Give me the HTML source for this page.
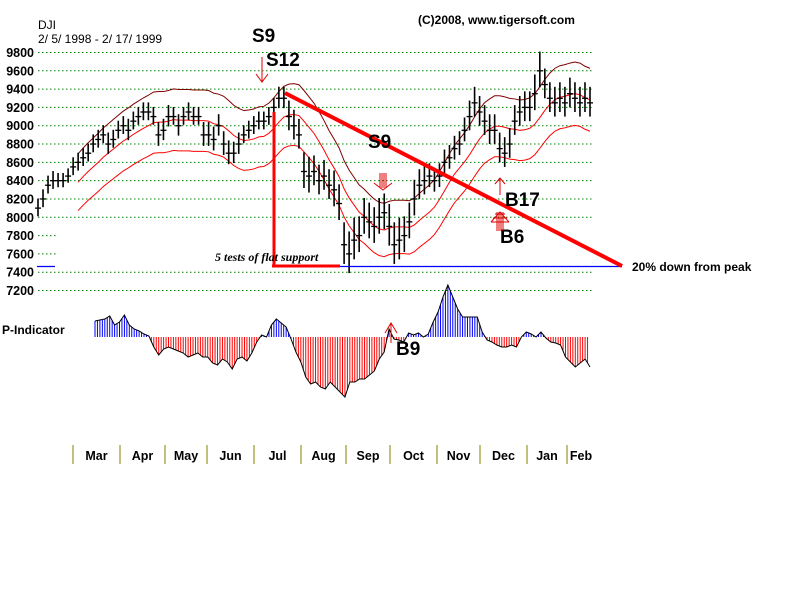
<!DOCTYPE html>
<html><head><meta charset="utf-8"><style>
body{margin:0;background:#fff;}
svg{display:block;font-family:"Liberation Sans",Arial,sans-serif;}
</style></head><body>
<svg id="c" width="800" height="600" viewBox="0 0 800 600">
<rect width="800" height="600" fill="#fff"/>
<g id="grid"></g>
<g id="ylab" font-size="12.5" font-weight="bold"></g>
<g id="bands"></g>
<g id="bars"></g>
<g id="ind"></g>
<g id="months"></g>
<text x="38" y="29" font-size="12">DJI</text>
<text x="38" y="43" font-size="12">2/ 5/ 1998 - 2/ 17/ 1999</text>
<text x="418" y="24" font-size="12" font-weight="bold">(C)2008, www.tigersoft.com</text>
<text x="252" y="42" font-size="19" font-weight="bold">S9</text>
<text x="266" y="66" font-size="19" font-weight="bold">S12</text>
<g stroke="#e00000" stroke-width="1" fill="none"><line x1="262" y1="57" x2="262" y2="82"/><polyline points="256,74 262,82 268,74"/></g>
<line x1="274" y1="112" x2="274" y2="266" stroke="#ff0000" stroke-width="3"/>
<line x1="272" y1="266" x2="340" y2="266" stroke="#ff0000" stroke-width="3"/>
<text x="215" y="261" font-family="Liberation Serif,serif" font-style="italic" font-weight="bold" font-size="12">5 tests of flat support</text>
<line x1="340" y1="266.5" x2="622" y2="266.5" stroke="#0000ff" stroke-width="1.2"/>
<line x1="37" y1="266.5" x2="55" y2="266.5" stroke="#0000ff" stroke-width="1.2"/>
<line x1="285" y1="93" x2="622" y2="266" stroke="#ff0000" stroke-width="4"/>
<text x="632" y="271" font-size="12" font-weight="bold">20% down from peak</text>
<text x="368" y="148" font-size="19" font-weight="bold">S9</text>
<g stroke="#e00000" stroke-width="1" fill="none"><line x1="380" y1="173" x2="380" y2="188"/><line x1="382" y1="173" x2="382" y2="188"/><line x1="384" y1="173" x2="384" y2="188"/><line x1="386" y1="173" x2="386" y2="188"/><polyline points="374,183 383,190 392,183"/></g>
<text x="505" y="206" font-size="19" font-weight="bold">B17</text>
<g stroke="#e00000" stroke-width="1" fill="none"><line x1="500" y1="178" x2="500" y2="195"/><polyline points="495,184 500,178 505,184"/></g>
<text x="500" y="243" font-size="19" font-weight="bold">B6</text>
<g stroke="#e00000" stroke-width="1" fill="none"><polyline points="491,222 500,212 509,222"/><line x1="491" y1="222" x2="509" y2="222"/><line x1="495" y1="214" x2="505" y2="214"/><line x1="493" y1="218" x2="507" y2="218"/><line x1="497" y1="212" x2="497" y2="231"/><line x1="499" y1="212" x2="499" y2="231"/><line x1="501" y1="212" x2="501" y2="231"/><line x1="503" y1="212" x2="503" y2="231"/></g>
<text x="2" y="334" font-size="12" font-weight="bold">P-Indicator</text>
<text x="396" y="355" font-size="19" font-weight="bold">B9</text>
<g stroke="#e00000" stroke-width="1" fill="none"><line x1="391" y1="323" x2="391" y2="343"/><polyline points="385,333 391,323 397,333"/></g>
</svg>
<script>
var yTicks=[9800,9600,9400,9200,9000,8800,8600,8400,8200,8000,7800,7600,7400,7200];
var closes=[8100,8200,8350,8400,8400,8400,8450,8550,8600,8650,8700,8800,8850,8900,8800,8850,8950,9000,8950,9050,9100,9150,9150,9100,8900,8950,9100,9100,9000,9100,9150,9100,9100,8900,8900,8850,9000,8800,8700,8700,8800,8900,8950,9000,9050,9050,9100,9200,9300,9300,9100,9000,8900,8500,8450,8500,8400,8450,8350,8300,8150,7700,7600,7750,7800,8000,7950,7900,8000,8050,7900,7700,7750,7800,7950,8200,8350,8400,8450,8400,8450,8600,8650,8750,8800,8950,9100,9250,9150,9050,8950,8950,8750,8700,8800,9050,9150,9200,9200,9350,9600,9450,9300,9250,9300,9250,9350,9300,9250,9300,9250];
var ranges=[150,150,150,150,120,120,120,150,150,150,150,150,150,150,180,150,150,150,180,150,150,150,150,150,200,180,180,150,180,150,150,150,150,200,200,200,180,200,200,180,180,150,150,150,150,150,150,150,180,180,250,250,250,300,300,250,250,250,250,300,300,350,350,350,300,300,300,300,300,300,350,350,350,300,300,300,250,250,200,200,200,200,200,200,200,200,250,250,250,250,250,250,250,250,250,250,250,250,250,300,300,250,250,250,250,250,250,250,250,250,250];
var pInd=[16,17,18,21,12,15,22,12,8,6,3,1,-10,-18,-12,-10,-12,-14,-16,-20,-18,-16,-20,-20,-26,-28,-22,-25,-32,-22,-20,-24,-16,-5,2,0,12,18,14,10,-2,-15,-25,-40,-47,-45,-50,-52,-45,-50,-55,-60,-45,-45,-42,-42,-38,-34,-22,-15,8,-2,-3,-5,4,2,4,0,3,15,25,40,52,40,28,20,20,20,20,5,-3,-5,-8,-10,-10,-8,-10,0,5,3,0,5,-1,-5,-6,-8,-20,-25,-30,-26,-22,-30];
var months=["Mar","Apr","May","Jun","Jul","Aug","Sep","Oct","Nov","Dec","Jan","Feb"];
var monthTicks=[73,120,165,207,254,301,346,390,437,480,527,567,595];
(function(){
var NS='http://www.w3.org/2000/svg';
function mk(t,a,p){var e=document.createElementNS(NS,t);for(var k in a)e.setAttribute(k,a[k]);p.appendChild(e);return e;}
function Y(v){return 52.5+(9800-v)*(238/2600);}
var X0=38,X1=590;
function X(i){return X0+i*(X1-X0)/(closes.length-1);}
var g=document.getElementById('grid'),yl=document.getElementById('ylab');
yTicks.forEach(function(v){
  var short=(v===7800||v===7600);
  var l=mk('line',{x1:38,x2:short?56:592,y1:Y(v),y2:Y(v),stroke:'#008000','stroke-dasharray':'1.5,2.5'},g);
  
  
  var t=mk('text',{x:34,y:Y(v)+4.5,'text-anchor':'end'},yl);t.textContent=v;
  
  
});
var b=document.getElementById('bands');var N=9;
var mid=[],up=[],lo=[];
for(var i=N-1;i<closes.length;i++){var s=0;for(var j=i-N+1;j<=i;j++)s+=closes[j];var m=s/N;mid.push([X(i),Y(m)]);up.push([X(i),Y(m*1.037)]);lo.push([X(i),Y(m*0.963)]);}
[[up,'#800000','upper-band'],[mid,'#ff0000','middle-band'],[lo,'#ff0000','lower-band']].forEach(function(a){
  var p=mk('polyline',{points:a[0].map(function(q){return q.join(',');}).join(' '),fill:'none',stroke:a[1],'stroke-width':1},b);
  
  
});
var bg=document.getElementById('bars');
closes.forEach(function(c,i){
  var x=X(i),r=ranges[i];
  var l=mk('line',{x1:x,x2:x,y1:Y(c+r*0.7),y2:Y(c-r*0.6),stroke:'#000','stroke-width':1.6},bg);
  
  
  var t=mk('line',{x1:x-3,x2:x+3,y1:Y(c),y2:Y(c),stroke:'#000','stroke-width':1.3},bg);
  
  
});
var ig=document.getElementById('ind');var base=337;
function IX(i){return 95+i*(590-95)/(pInd.length-1);}
for(var i2=0;i2<pInd.length-1;i2++){
  for(var k=0;k<2;k++){
    var f=k/2,v=pInd[i2]*(1-f)+pInd[i2+1]*f,x=IX(i2)+f*(IX(1)-IX(0));
    var l=mk('line',{x1:x,x2:x,y1:base,y2:base-v,stroke:v>=0?'#0000ff':'#ff0000','stroke-width':1},ig);
    
    
  }
}
var pl=mk('polyline',{points:pInd.map(function(v,i){return IX(i)+','+(base-v);}).join(' '),fill:'none',stroke:'#000','stroke-width':1},ig);


var mg=document.getElementById('months');
monthTicks.forEach(function(x,i){
  if(i<monthTicks.length-1){var l=mk('line',{x1:x,x2:x,y1:445,y2:464,stroke:'#808000','stroke-width':1},mg);
  
  }
  if(i<months.length){var t=mk('text',{x:(x+monthTicks[i+1])/2,y:460,'text-anchor':'middle','font-size':12.5,'font-weight':'bold'},mg);t.textContent=months[i];
  
  }
});
})();
</script>
</body></html>
